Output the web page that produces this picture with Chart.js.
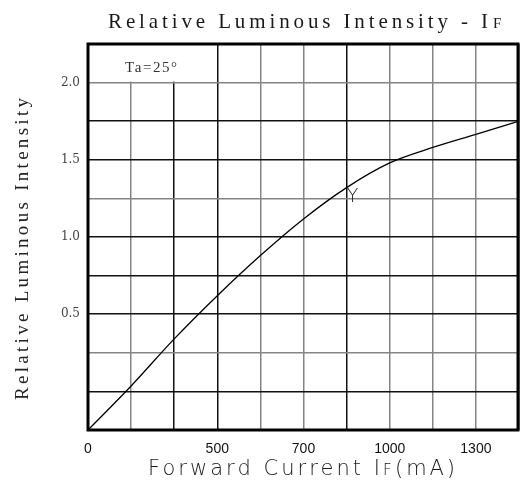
<!DOCTYPE html>
<html>
<head>
<meta charset="utf-8">
<script src="https://cdn.jsdelivr.net/npm/chart.js@4"></script>
<style>
  html, body { margin: 0; padding: 0; background: #fff; }
  #wrap { width: 520px; height: 484px; }
</style>
</head>
<body>
<div id="wrap"><canvas id="lumChart" width="520" height="484"></canvas></div>
<script>
  // forward current tick labels, one per vertical grid line
  const xLabels = ["0", "", "", "500", "", "700", "", "1000", "", "1300", ""];
  // relative luminous intensity at each grid line
  const intensity = [-0.25, 0.035, 0.34, 0.62, 0.88, 1.117, 1.32, 1.48, 1.58, 1.665, 1.75];
  const yTickLabels = [0.5, 1.0, 1.5, 2.0];
  const yMin = -0.25;
  const yMax = 2.25;
  const yStep = 0.25;

  const DARK = "#111";
  const GRAY = "#858585";
  const xGridColors = [DARK, GRAY, DARK, DARK, GRAY, GRAY, DARK, GRAY, GRAY, GRAY, DARK];
  const yGridColors = [DARK, DARK, GRAY, DARK, DARK, DARK, GRAY, DARK, DARK, GRAY, DARK];

  // draw text stretched to a given width through letter spacing
  const fitText = (ctx, text, x, y, width) => {
    ctx.letterSpacing = "0px";
    const n = text.length;
    const w = ctx.measureText(text).width;
    const sp = n > 1 ? (width - w) / (n - 1) : 0;
    ctx.letterSpacing = sp + "px";
    ctx.fillText(text, x, y);
    ctx.letterSpacing = "0px";
    return w + sp * n;
  };

  const decorPlugin = {
    id: "decor",
    beforeDatasetsDraw(chart) {
      const { ctx, chartArea: a, scales } = chart;
      // blank area holding the Ta note (grid lines stop there)
      const x3 = scales.x.getPixelForValue(3);
      const y9 = scales.y.getPixelForValue(yMax - yStep);
      ctx.save();
      ctx.fillStyle = "#fff";
      ctx.fillRect(a.left + 1, a.top + 1, x3 - a.left - 2, y9 - a.top - 2);
      ctx.fillStyle = "#333";
      ctx.font = "15px 'Liberation Serif'";
      ctx.textBaseline = "alphabetic";
      ctx.textAlign = "left";
      fitText(ctx, "Ta=25°", 125, 72, 52);
      ctx.restore();
    },
    afterDraw(chart) {
      const { ctx, chartArea: a, scales } = chart;
      ctx.save();
      // frame
      ctx.strokeStyle = "#000";
      ctx.lineWidth = 3;
      ctx.strokeRect(a.left, a.top, a.right - a.left - 1, a.bottom - a.top);

      // curve marker
      ctx.fillStyle = "#222";
      ctx.font = "300 19px 'DejaVu Sans'";
      ctx.textAlign = "center";
      ctx.textBaseline = "middle";
      ctx.fillText("Y", scales.x.getPixelForValue(6) + 6, scales.y.getPixelForValue(intensity[6]) + 9);

      // title
      ctx.fillStyle = "#1a1a1a";
      ctx.textBaseline = "alphabetic";
      ctx.textAlign = "left";
      ctx.font = "21px 'Liberation Serif'";
      const tw = fitText(ctx, "Relative Luminous Intensity - I", 108, 28, 380);
      ctx.font = "15px 'Liberation Serif'";
      ctx.fillText("F", 108 + tw + 1, 28);

      // x axis title
      ctx.fillStyle = "#1a1a1a";
      ctx.font = "300 21px 'DejaVu Sans'";
      const w1 = fitText(ctx, "Forward Current I", 148, 475, 232);
      ctx.font = "300 15px 'DejaVu Sans'";
      ctx.fillText("F", 148 + w1, 475);
      ctx.font = "300 21px 'DejaVu Sans'";
      fitText(ctx, "(mA)", 148 + w1 + 12, 475, 60);

      // y axis title
      ctx.fillStyle = "#222";
      ctx.translate(28, 247);
      ctx.rotate(-Math.PI / 2);
      ctx.font = "19px 'Liberation Serif'";
      fitText(ctx, "Relative Luminous Intensity", -153, 0, 302);
      ctx.restore();
    },
  };

  new Chart(document.getElementById("lumChart"), {
    type: "line",
    data: {
      labels: xLabels,
      datasets: [
        {
          data: intensity,
          borderColor: "#000",
          borderWidth: 1.3,
          pointRadius: 0,
          cubicInterpolationMode: "monotone",
          fill: false,
        },
      ],
    },
    options: {
      responsive: false,
      animation: false,
      layout: { padding: { top: 44, right: 1, left: 0, bottom: 0 } },
      plugins: { legend: { display: false }, tooltip: { enabled: false } },
      scales: {
        x: {
          type: "category",
          offset: false,
          afterFit: (s) => { s.height = 54; s.paddingRight = 0; s.paddingLeft = 0; },
          border: { display: false },
          grid: {
            color: (c) => xGridColors[c.index] || DARK,
            lineWidth: 1.5,
            drawTicks: false,
          },
          ticks: {
            autoSkip: false,
            maxRotation: 0,
            padding: 11,
            color: "#111",
            font: { family: "'Liberation Sans'", size: 14 },
          },
        },
        y: {
          min: yMin,
          max: yMax,
          afterFit: (s) => { s.width = 88; },
          border: { display: false },
          grid: {
            color: (c) => yGridColors[c.index] || DARK,
            lineWidth: 1.5,
            drawTicks: false,
          },
          ticks: {
            stepSize: yStep,
            padding: 8,
            color: "#444",
            font: { family: "'DejaVu Serif'", size: 12 },
            callback: (v) => {
              const hit = yTickLabels.find((t) => Math.abs(t - v) < 1e-6);
              return hit === undefined ? "" : hit.toFixed(1);
            },
          },
        },
      },
    },
    plugins: [decorPlugin],
  });
</script>
</body>
</html>
